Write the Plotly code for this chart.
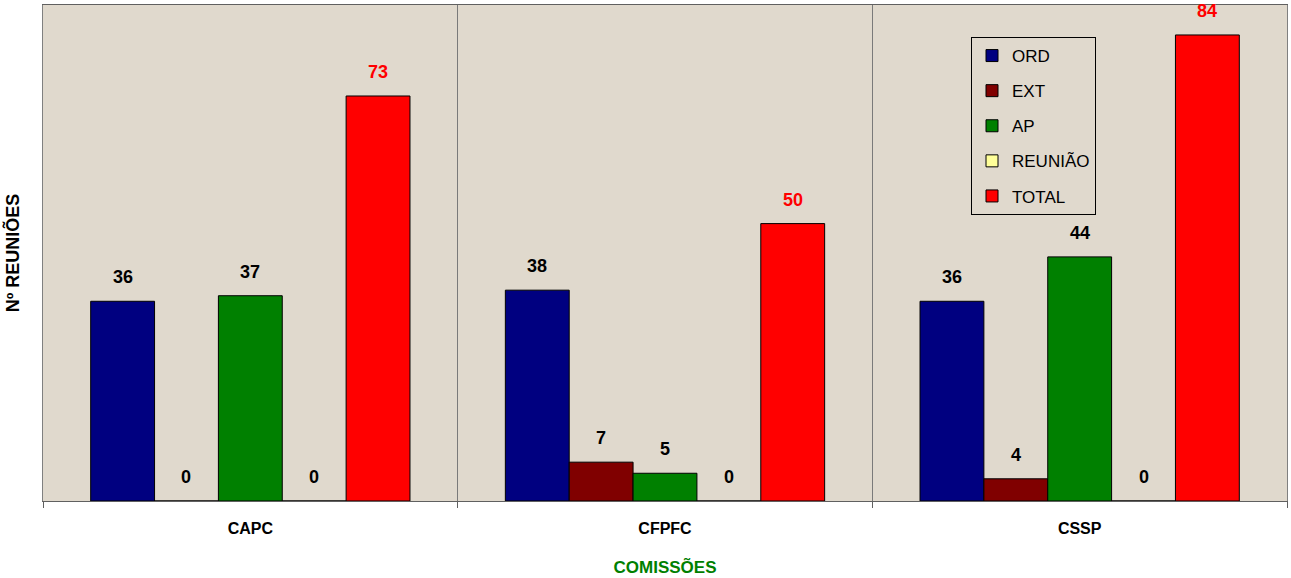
import plotly.graph_objects as go

categories = ["CAPC", "CFPFC", "CSSP"]
series_names = ["ORD", "EXT", "AP", "REUNIÃO", "TOTAL"]
ord_vals = [36, 38, 36]
ext_vals = [0, 7, 4]
ap_vals = [37, 5, 44]
reuniao_vals = [0, 0, 0]
total_vals = [73, 50, 84]
colors = ["#000080", "#800000", "#008000", "#FFFF99", "#FF0000"]
label_colors = ["#000000", "#000000", "#000000", "#000000", "#FF0000"]

series = [ord_vals, ext_vals, ap_vals, reuniao_vals, total_vals]

FONT = "Arial, Liberation Sans, sans-serif"
W, H = 1291, 578
ML, MR, MT, MB = 43, 4, 5, 77
BARGAP = 0.23

fig = go.Figure()
for i, (name, vals) in enumerate(zip(series_names, series)):
    fig.add_trace(go.Bar(
        x=categories, y=vals, name=name, legendgroup=name,
        marker=dict(color=colors[i], line=dict(color="black", width=1)),
        cliponaxis=False,
    ))

# value labels above bars
plot_w = W - ML - MR
cat_w = plot_w / len(categories)
bar_w = cat_w * (1 - BARGAP) / len(series)
for i, vals in enumerate(series):
    for cat, v in zip(categories, vals):
        fig.add_annotation(
            x=cat, y=v, xref="x", yref="y", text=str(v), showarrow=False,
            xshift=(i - (len(series) - 1) / 2) * bar_w, yshift=24,
            yanchor="middle",
            font=dict(family=FONT, size=18, color=label_colors[i], weight="bold"),
        )

fig.update_layout(
    width=W, height=H,
    margin=dict(l=ML, r=MR, t=MT, b=MB),
    barmode="group", bargap=BARGAP, bargroupgap=0,
    paper_bgcolor="white", plot_bgcolor="#e0d9cd",
    font=dict(family=FONT, color="black"),
    showlegend=True,
    legend=dict(
        x=(971 - ML) / plot_w, y=(501 - 37) / (H - MT - MB), xanchor="left", yanchor="top",
        bgcolor="rgba(0,0,0,0)", bordercolor="black", borderwidth=1,
        font=dict(family=FONT, size=17, color="black"),
        tracegroupgap=10, itemwidth=30, entrywidth=108, entrywidthmode="pixels",
    ),
)
fig.update_xaxes(
    type="category", tickson="boundaries", showgrid=True, gridcolor="#7a7a7a", gridwidth=1,
    ticks="outside", ticklen=6, tickcolor="#606060",
    showline=True, linecolor="#606060", mirror=True,
    tickfont=dict(family=FONT, size=16, color="black", weight="bold"),
    ticklabelstandoff=13,
    title=dict(text="COMISSÕES", font=dict(family=FONT, size=17, color="#008000", weight="bold"), standoff=24),
)
fig.update_yaxes(
    range=[0, 89.4], showgrid=False, showticklabels=False, ticks="", zeroline=False,
    showline=True, linecolor="#808080", mirror=True,
    title=dict(text="Nº REUNIÕES", font=dict(family=FONT, size=18, color="black", weight="bold"), standoff=17),
)

fig.write_html("out.html", post_script="document.body.style.margin='0';",
               config={"displayModeBar": False})
